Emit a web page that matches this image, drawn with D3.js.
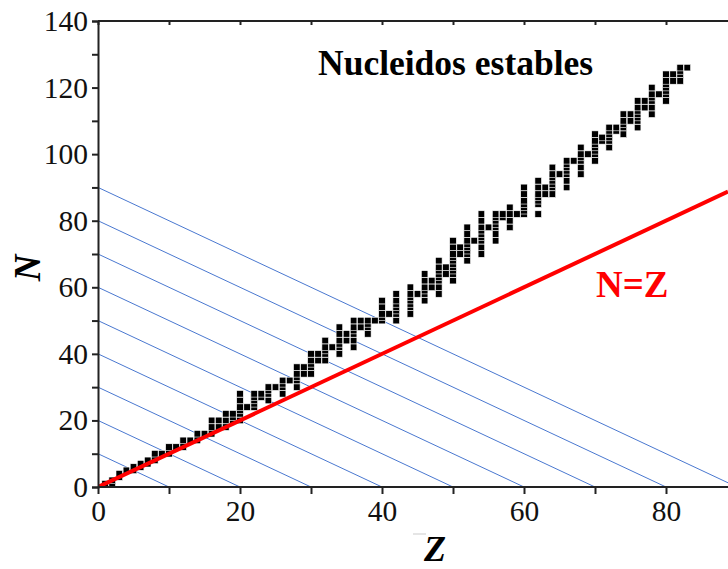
<!DOCTYPE html>
<html><head><meta charset="utf-8">
<script src="https://cdn.jsdelivr.net/npm/d3@7"></script>
<style>html,body{margin:0;padding:0;background:#fff;}svg{display:block;}</style>
</head><body>
<script>
// Stable nuclides: proton number Z and list of stable neutron numbers N
const elementZ = [1,2,3,4,5,6,7,8,9,10,11,12,13,14,15,16,17,18,19,20,21,22,23,24,25,26,27,28,29,30,31,32,33,34,35,36,37,38,39,40,41,42,44,45,46,47,48,49,50,51,52,53,54,55,56,57,58,59,60,62,63,64,65,66,67,68,69,70,71,72,73,74,75,76,77,78,79,80,81,82,83];
const stableN = [
 [0,1],[1,2],[3,4],[5],[5,6],[6,7],[7,8],[8,9,10],[10],[10,11,12],
 [12],[12,13,14],[14],[14,15,16],[16],[16,17,18,20],[18,20],[18,20,22],[20,21,22],[20,22,23,24,26,28],
 [24],[24,25,26,27,28],[27,28],[26,28,29,30],[30],[28,30,31,32],[32],[30,32,33,34,36],[34,36],[34,36,37,38,40],
 [38,40],[38,40,41,42,44],[42],[40,42,43,44,46,48],[44,46],[42,44,46,47,48,50],[48,50],[46,48,49,50],[50],[50,51,52,54,56],
 [52],[50,52,53,54,55,56,58],[52,54,55,56,57,58,60],[58],[56,58,59,60,62,64],[60,62],[58,60,62,63,64,65,66,68],[64,66],[62,64,65,66,67,68,69,70,72,74],[70,72],
 [68,70,71,72,73,74,76,78],[74],[70,72,74,75,76,77,78,80,82],[78],[74,76,78,79,80,81,82],[81,82],[78,80,82,84],[82],[82,83,84,85,86,88,90],[82,85,86,87,88,90,92],
 [88,90],[88,90,91,92,93,94,96],[94],[90,92,94,95,96,97,98],[98],[94,96,98,99,100,102],[100],[98,100,101,102,103,104,106],[104,105],[102,104,105,106,107,108],
 [107,108],[106,108,109,110,112],[110,112],[108,110,111,112,113,114,116],[114,116],[112,114,116,117,118,120],[118],[116,118,119,120,121,122,124],[122,124],[122,124,125,126],
 [126]
];
const xTicks = [0,10,20,30,40,50,60,70,80];
const yTicks = [0,10,20,30,40,50,60,70,80,90,100,110,120,130,140];
const isobarA = [10,20,30,40,50,60,70,80,90];
const titleText = "Nucleidos estables";
const lineLabel = "N=Z";

const W = 728, H = 569;
const svg = d3.select("body").append("svg").attr("width", W).attr("height", H);
const x = d3.scaleLinear().domain([0, 80]).range([98, 666]);
const y = d3.scaleLinear().domain([0, 140]).range([487, 21]);
const xMax = x.invert(W);

svg.append("defs").append("clipPath").attr("id","clip")
  .append("rect").attr("x", x(0)).attr("y", y(140)).attr("width", W - x(0)).attr("height", y(0) - y(140));

const plot = svg.append("g").attr("clip-path","url(#clip)");

// isobar lines N + Z = A
plot.selectAll("line.iso").data(isobarA).join("line").attr("class","iso")
  .attr("x1", d => x(0)).attr("y1", d => y(d))
  .attr("x2", d => x(d)).attr("y2", d => y(0))
  .attr("stroke", "#4a78d0").attr("stroke-width", 1);

// nuclide points
const pts = [];
elementZ.forEach((z, i) => stableN[i].forEach(n => pts.push({z, n})));
const s = 6.6;
plot.selectAll("rect.nuc").data(pts).join("rect").attr("class","nuc")
  .attr("x", d => x(d.z) - s/2).attr("y", d => y(d.n) - s/2)
  .attr("width", s).attr("height", s)
  .attr("fill", "#000").attr("stroke", "#fff").attr("stroke-width", 0.6);

// N = Z line
plot.append("line")
  .attr("x1", x(0)).attr("y1", y(0)).attr("x2", x(xMax)).attr("y2", y(xMax))
  .attr("stroke", "#ff0000").attr("stroke-width", 4);

// axes
const serif = "'Liberation Serif', 'Times New Roman', serif";
const xAxis = svg.append("g").attr("transform", `translate(0,${y(0)})`)
  .call(d3.axisBottom(x).tickValues(xTicks).tickSize(7).tickPadding(6)
    .tickFormat(d => d % 20 === 0 ? d : ""));
const yAxis = svg.append("g").attr("transform", `translate(${x(0)},0)`)
  .call(d3.axisLeft(y).tickValues(yTicks).tickSize(6).tickPadding(4)
    .tickFormat(d => d % 20 === 0 ? d : ""));
const topAxis = svg.append("g").attr("transform", `translate(0,${y(140)})`)
  .call(d3.axisTop(x).tickValues(xTicks).tickSize(-4).tickFormat(""));
[xAxis, yAxis, topAxis].forEach(g => {
  g.select(".domain").attr("stroke", "#222").attr("stroke-width", 2);
  g.selectAll(".tick line").attr("stroke", "#222").attr("stroke-width", 2);
  g.selectAll("text").attr("font-family", serif).attr("font-size", 29.5).attr("fill", "#111");
});
xAxis.select(".domain").attr("d", `M${x(0)},0H${W}`);
topAxis.select(".domain").attr("d", `M${x(0)},0H${W}`);

// labels
svg.append("text").attr("x", 318).attr("y", 75).text(titleText)
  .attr("font-family", serif).attr("font-weight", "bold").attr("font-size", 35.5).attr("fill", "#000");
svg.append("text").attr("x", 596).attr("y", 297).text(lineLabel)
  .attr("font-family", serif).attr("font-weight", "bold").attr("font-size", 37).attr("fill", "#ff0000");
svg.append("text").attr("transform", "translate(40,268) rotate(-90)").attr("text-anchor","middle").text("N")
  .attr("font-family", serif).attr("font-weight", "bold").attr("font-style","italic").attr("font-size", 37).attr("fill", "#000");
svg.append("text").attr("x", 435).attr("y", 561).attr("text-anchor","middle").text("Z")
  .attr("font-family", serif).attr("font-weight", "bold").attr("font-style","italic").attr("font-size", 36).attr("fill", "#000");
svg.append("line").attr("x1", 413).attr("x2", 426).attr("y1", 534).attr("y2", 534).attr("stroke", "#ddd").attr("stroke-width", 1.5);
</script>
</body></html>
